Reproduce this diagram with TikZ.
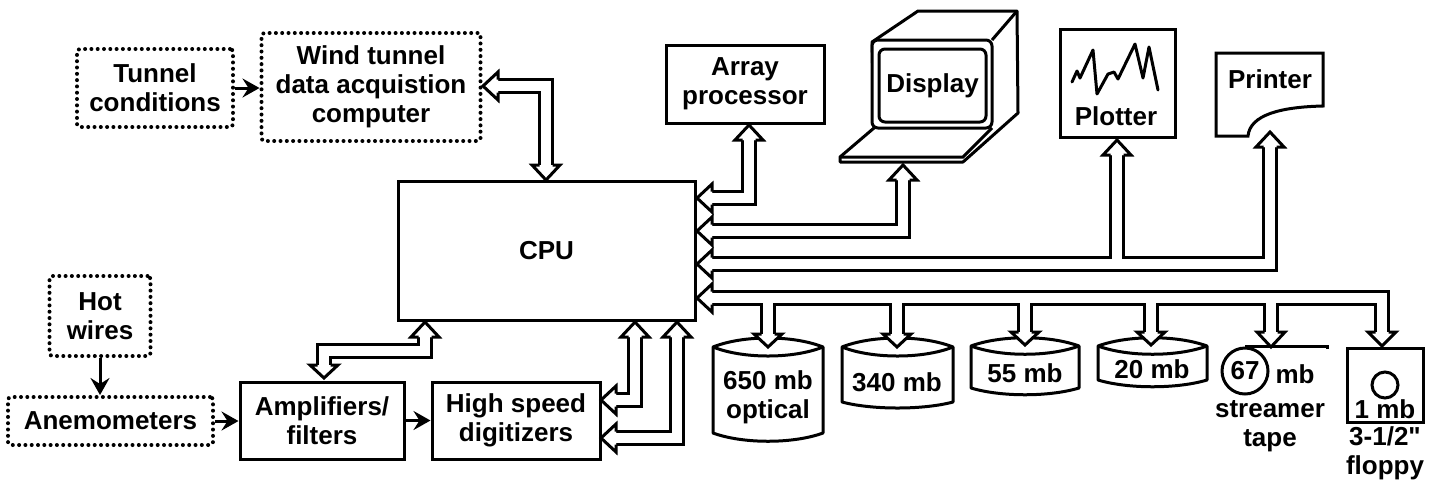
\documentclass[tikz,border=0pt]{standalone}
\usepackage{fontspec}
\setmainfont{Liberation Sans}[BoldFont={Liberation Sans Bold}]
\newfontfamily\nomap{Liberation Sans Bold}
\usetikzlibrary{calc,arrows.meta}
\tikzset{
  lw/.style={line width=1.5pt},
  lbl/.style={font=\fontsize{13}{14.5}\selectfont\bfseries, align=center, inner sep=0pt},
  box/.style={lbl, lw, draw, rectangle, line join=miter},
  dotbox/.style={lbl, draw, rectangle, line width=2pt, line cap=round, dash pattern=on 0pt off 3.15pt, rounded corners=1.5pt},
  thinarrow/.style={lw, -{Stealth[length=8.5pt,width=9.5pt,inset=3pt]}},
  shape line/.style={lw, line join=round, fill=white},
  busk/.style={line width=8.2pt, line join=miter, draw=black},
  busw/.style={line width=5.2pt, line join=miter, draw=white},
  pics/bighead/.style={code={
    \fill[white] (0,0)--(-#1,-13.5)--(-#1,13.5)--cycle;
    \draw[lw, line join=miter, fill=white] (-#1,-6.5)--(-#1,-14)--(0,0)--(-#1,14)--(-#1,6.5);
    \fill[white] (-#1-1,-5.2) rectangle (-#1+3,5.2);
  }}
}
\newcommand\Bus[1]{\draw[busk] #1; \draw[busw] #1;}
\newcommand\Hd[3][15]{\pic[rotate=#3] at (#2) {bighead={#1}};}
\newcommand\Disk[7]{% x1,x2,mid,dy,sidebottom,dyb,name-unused
  \draw[shape line] (#1,#3) .. controls (#1+30,#3-#4) and (#2-30,#3-#4) .. (#2,#3)
     -- (#2,#5) .. controls (#2-30,#5+#6) and (#1+30,#5+#6) .. (#1,#5) -- cycle;
  \draw[lw] (#1,#3) .. controls (#1+30,#3+#4) and (#2-30,#3+#4) .. (#2,#3);
}
\begin{document}
\begin{tikzpicture}[x=0.5pt,y=-0.5pt]
\useasboundingbox[fill=white] (0,0) rectangle (1445,484);

% input chain boxes
\node[dotbox, minimum width=78pt, minimum height=39pt] (tunnel) at (155,88) {Tunnel\\conditions};
\node[dotbox, minimum width=109.5pt, minimum height=54pt] (wind) at (371,87) {Wind tunnel\\data acquistion\\computer};
\node[box, minimum width=148.5pt, minimum height=69.5pt, font=\fontsize{13}{14.5}\selectfont\bfseries] (cpu) at (546.5,250.5) {CPU};
\node[dotbox, minimum width=50.5pt, minimum height=40pt] (hot) at (100,316) {Hot\\wires};
\node[dotbox, minimum width=102.5pt, minimum height=24pt] (anemo) at (110.5,421) {Anemometers};
\node[box, minimum width=82pt, minimum height=38.5pt] (amp) at (322,420.5) {Amplifiers/\\filters};
\node[box, minimum width=84pt, minimum height=38.5pt] (hsd) at (516,420.5) {High speed\\digitizers};
\node[box, minimum width=79pt, minimum height=39pt] (array) at (745,84) {Array\\processor};

\draw[thinarrow] (tunnel.east) -- (tunnel.east -| wind.west);
\draw[thinarrow] (hot.south) -- (anemo.north -| hot.south);
\draw[thinarrow] (anemo.east) -- (anemo.east -| amp.west);
\draw[thinarrow] (amp.east) -- (hsd.west);

% display
\draw[shape line] (872,42) -- (918,11) -- (1017,11) -- (1018,113) -- (963,162) -- (840,162) -- (840,157) -- (874,128) -- cycle;
\draw[lw, fill=white, rounded corners=3pt] (872,40) rectangle (992,128);
\draw[lw] (992,40) -- (1017,11);
\draw[lw] (840,157) -- (963,157) -- (992,128);
\node[lbl, draw, lw, rectangle, rounded corners=3pt, minimum width=53.5pt, minimum height=36.5pt] (display) at (932.5,85.5) {Display};

% plotter
\node[box, minimum width=57.5pt, minimum height=54pt] (plotter) at (1117.5,83) {};
\node[lbl] (plottxt) at (1116,116) {Plotter};
\draw[lw, line join=round, line cap=round] (1072,82) -- (1077,71) -- (1080,78) -- (1093,50) -- (1097,94) -- (1108,74) -- (1114,72) -- (1118,79) -- (1135,44) -- (1143,78) -- (1149,47) -- (1158,90);

% printer
\draw[shape line, line join=miter] (1216,53) -- (1323,53) -- (1323,106) .. controls (1280,107) and (1250,115) .. (1248,136) -- (1216,136) -- cycle;
\node[lbl] (printer) at (1270,79) {Printer};

% disks
\Disk{713}{823}{347}{12}{433}{11}{a}
\node[lbl] (d650) at (768,397) {650 mb\\optical};
\Disk{842}{953}{347}{12}{402}{8}{b}
\node[lbl] (d340) at (897,382) {340 mb};
\Disk{971}{1079}{346}{11}{388}{9}{c}
\node[lbl] (d55) at (1025,373) {55 mb};
\Disk{1098}{1207}{346}{11}{380}{9}{d}
\node[lbl] (d20) at (1152,369) {20 mb};

% tape
\node[circle, draw, lw, minimum size=23pt, inner sep=0pt, lbl] (tape) at (1245,371) {67};
\coordinate (tapeend) at (1327,349);
\draw[lw] (tape.north) -- (tape.north -| tapeend) -- (tapeend);
\node[lbl] (tapemb) at (1295,374) {mb};
\node[lbl] (tapetxt) at (1270,426) {streamer\\tape};

% floppy
\node[box, minimum width=38pt, minimum height=37pt] (floppy) at (1385,385) {};
\node[circle, draw, lw, minimum size=13pt, inner sep=0pt] (hole) at (1385,385) {};
\node[lbl] (fmb) at (1385,409) {1 mb};
\node[lbl] (ftxt) at (1385,453) {3-1/2{\nomap "}\\floppy};

% wide connector tips
\coordinate (wL) at (483,86);   \coordinate (wD) at (546,180);
\coordinate (aL) at (697,198);  \coordinate (aU) at (749,125);
\coordinate (dL) at (697,231);  \coordinate (dU) at (903,165);
\coordinate (pL) at (697,264);  \coordinate (pU) at (1117,140); \coordinate (qU) at (1270,132);
\coordinate (bL) at (697,298);
\coordinate (m1) at (768,347);  \coordinate (m2) at (897,347);  \coordinate (m3) at (1025,345);
\coordinate (m4) at (1151,345); \coordinate (m5) at (1271,347); \coordinate (m6) at (1382,346);
\coordinate (ampU) at (425,322); \coordinate (ampD) at (324,378);
\coordinate (h1U) at (635,322); \coordinate (h1L) at (601,400);
\coordinate (h2U) at (677,322); \coordinate (h2L) at (601,438);

\Bus{(wL) ++(15,0) -| ($(wD)+(0,-15)$)}
\Bus{(aL) ++(15,0) -| ($(aU)+(0,15)$)}
\Bus{(dL) ++(15,0) -| ($(dU)+(0,15)$)}
\Bus{(pL) ++(15,0) -| ($(qU)+(0,15)$) (pU |- pL) -- ($(pU)+(0,15)$)}
\Bus{(bL) ++(15,0) -| ($(m6)+(0,-14)$)
     (m1 |- bL) -- ($(m1)+(0,-13)$) (m2 |- bL) -- ($(m2)+(0,-13)$)
     (m3 |- bL) -- ($(m3)+(0,-13)$) (m4 |- bL) -- ($(m4)+(0,-13)$)
     (m5 |- bL) -- ($(m5)+(0,-15)$)}
\Bus{(ampU) ++(0,15) -- ++(0,14) -| ($(ampD)+(0,-13)$)}
\Bus{(h1U) ++(0,15) |- ($(h1L)+(15,0)$)}
\Bus{(h2U) ++(0,15) |- ($(h2L)+(15,0)$)}

\Hd{wL}{180} \Hd{wD}{-90}
\Hd{aL}{180} \Hd{aU}{90}
\Hd{dL}{180} \Hd{dU}{90}
\Hd{pL}{180} \Hd{pU}{90} \Hd{qU}{90}
\Hd{bL}{180}
\Hd[13]{m1}{-90} \Hd[13]{m2}{-90} \Hd[13]{m3}{-90} \Hd[13]{m4}{-90}
\Hd{m5}{-90} \Hd[14]{m6}{-90}
\Hd{ampU}{90} \Hd[13]{ampD}{-90}
\Hd{h1U}{90} \Hd{h1L}{180}
\Hd{h2U}{90} \Hd{h2L}{180}
\end{tikzpicture}
\end{document}
